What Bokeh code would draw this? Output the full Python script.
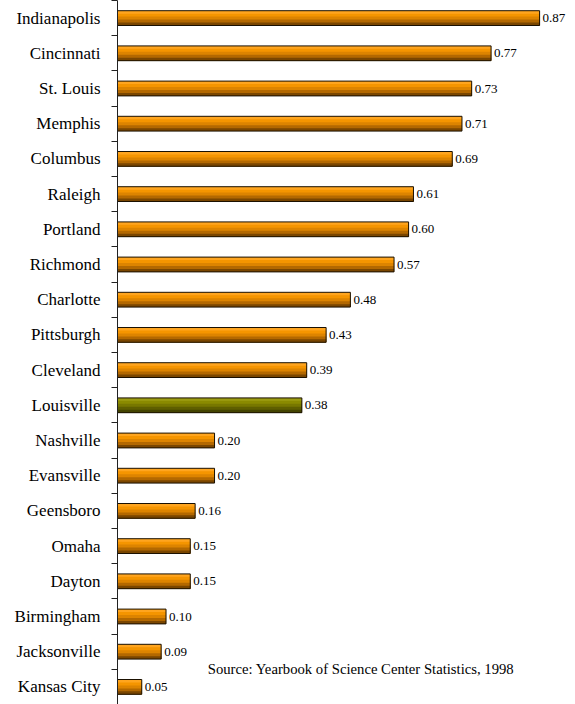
from bokeh.plotting import figure
from bokeh.models import ColumnDataSource, FixedTicker, Label
from bokeh.transform import dodge
from bokeh.core.properties import value
from bokeh.embed import file_html
from bokeh.resources import INLINE

cities = ["Indianapolis", "Cincinnati", "St. Louis", "Memphis", "Columbus", "Raleigh",
          "Portland", "Richmond", "Charlotte", "Pittsburgh", "Cleveland", "Louisville",
          "Nashville", "Evansville", "Geensboro", "Omaha", "Dayton", "Birmingham",
          "Jacksonville", "Kansas City"]
values = [0.87, 0.77, 0.73, 0.71, 0.69, 0.61, 0.60, 0.57, 0.48, 0.43, 0.39, 0.38,
          0.20, 0.20, 0.16, 0.15, 0.15, 0.10, 0.09, 0.05]
highlight = "Louisville"
source_note = "Source: Yearbook of Science Center Statistics, 1998"

orange_stripes = ["#FFA51F", "#F59500", "#DD8400", "#B36800", "#7A4600"]
green_stripes = ["#9C9C12", "#8A8A00", "#777700", "#5E5E00", "#434300"]

FONT = "'Liberation Serif', 'Times New Roman', Times, serif"

n = len(cities)
ypos = [n - 1 - i for i in range(n)]
data = dict(y=ypos, v=values, city=cities, lab=["%.2f" % v for v in values])
for k in range(5):
    data["c%d" % k] = [green_stripes[k] if c == highlight else orange_stripes[k] for c in cities]
src = ColumnDataSource(data)

p = figure(width=575, height=704, x_range=(0, 0.944), y_range=(-0.5, n - 0.5),
           output_backend="svg", toolbar_location=None,
           min_border_left=117, min_border_right=0, min_border_top=0, min_border_bottom=0)
p.xaxis.visible = False
p.xgrid.visible = False
p.ygrid.visible = False
p.outline_line_color = None

bar_h = 0.42
sh = bar_h / 5
for k in range(5):
    hk = bar_h - k * sh
    off = -bar_h / 2 + hk / 2
    p.hbar(y=dodge("y", off), right="v", left=0, height=hk, source=src,
           fill_color="c%d" % k, line_color=None)
p.hbar(y="y", right="v", left=0, height=bar_h, source=src,
       fill_color=None, line_color="#1a1000", line_width=1)

p.text(x="v", y="y", text="lab", source=src, x_offset=3, text_baseline="middle",
       text_align="left", text_font=value(FONT), text_font_size="13px",
       text_color="black")

ax = p.yaxis[0]
ax.ticker = FixedTicker(ticks=ypos, minor_ticks=[i - 0.5 for i in range(n + 1)])
ax.major_label_overrides = {y: c for y, c in zip(ypos, cities)}
ax.major_tick_line_color = None
ax.major_tick_out = 0
ax.major_tick_in = 0
ax.minor_tick_out = 6
ax.minor_tick_in = 0
ax.minor_tick_line_color = "#222222"
ax.axis_line_color = "#222222"
ax.major_label_standoff = 11
ax.major_label_text_font = FONT
ax.major_label_text_font_size = "17px"
ax.major_label_text_color = "black"

p.add_layout(Label(x=0.186, y=0.5, text=source_note, text_baseline="middle",
                   text_align="left", text_font=FONT,
                   text_font_size="14.7px", text_color="black"))

open("out.html", "w").write(file_html(p, INLINE))
